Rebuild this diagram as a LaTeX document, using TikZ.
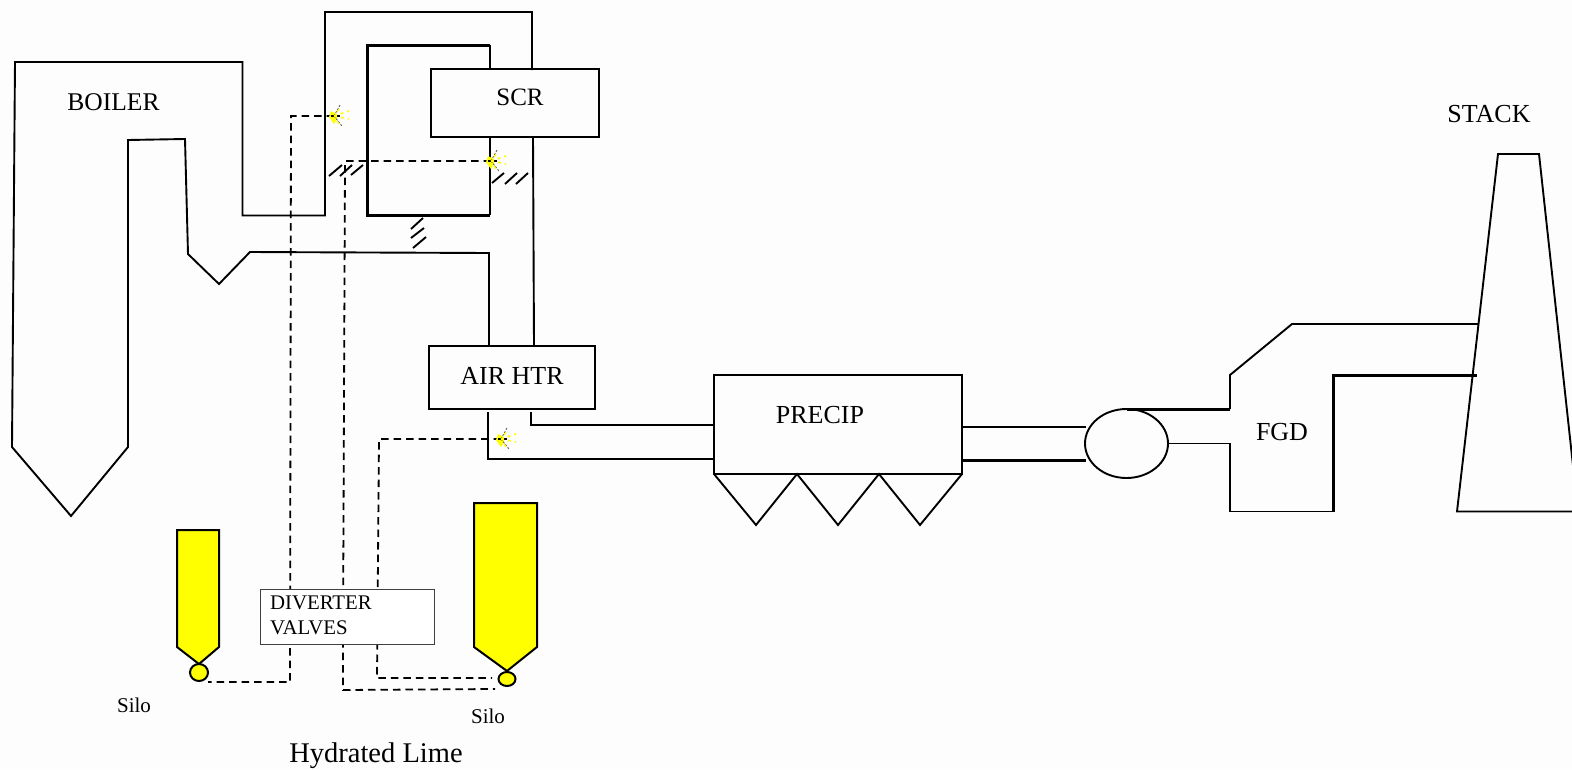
\documentclass[tikz,border=0pt]{standalone}
\usepackage{fontspec}
\setmainfont{Liberation Serif}
\definecolor{pagebg}{HTML}{FDFDFD}
\definecolor{lime}{HTML}{FFFF00}
\newcommand{\sprayfan}[1]{%
  \fill[lime] ($(#1)+(-3,-5)$) -- ($(#1)+(3,-2)$) -- ($(#1)+(3,3)$) -- ($(#1)+(0,8)$) -- ($(#1)+(-5,1)$) -- cycle;
  \draw[black,line width=1.6pt] ($(#1)+(-3,0)$) -- ($(#1)+(6,0)$);
  \draw[black!65,line width=0.8pt,dash pattern=on 2pt off 1.5pt] (#1) -- ++(6,-11);
  \draw[black!65,line width=0.8pt,dash pattern=on 2pt off 1.5pt] (#1) -- ++(8,10);
  \draw[lime,line width=1.6pt,dash pattern=on 3pt off 4pt] (#1) -- ++(15,-5);
  \draw[lime,line width=1.6pt,dash pattern=on 3pt off 4pt] (#1) -- ++(15,3);
  \draw[lime,line width=1.2pt] ($(#1)+(3,-4)$) -- ++(2,-3);
  \draw[lime,line width=1.2pt] ($(#1)+(3,5)$) -- ++(2,3);
}
\usetikzlibrary{calc,shapes.geometric}
\tikzset{
  x=1pt,y=-1pt,
  duct/.style={line width=1.9pt,line join=miter},
  midline/.style={line width=2.4pt,line join=miter},
  heavy/.style={line width=3pt,line join=miter},
  hatch/.style={line width=1.9pt},
  feed/.style={line width=1.8pt,dash pattern=on 7.5pt off 5pt},
  unitbox/.style={draw,line width=2pt,anchor=north west,inner sep=0pt,outer sep=0pt},
  silobody/.style={draw,fill=lime,line width=2pt,line join=miter},
  label/.style={font=\fontsize{26}{30}\selectfont,inner sep=0pt},
  small/.style={font=\fontsize{21}{24}\selectfont,inner sep=0pt}
}
\begin{document}
\begin{tikzpicture}
\useasboundingbox (0,0) rectangle (1572,769);
\clip (0,0) rectangle (1572,769);
\fill[pagebg] (0,0) rectangle (1572,769);

% named points
\coordinate (sprayA) at (334,116);
\coordinate (sprayB) at (491,161);
\coordinate (sprayC) at (501,439);
\coordinate (tA) at (291,116);
\coordinate (tB) at (345,161);
\coordinate (tC) at (379,439);
\coordinate (bA) at (290,682);
\coordinate (bB) at (343,690);
\coordinate (bC) at (377,678);

% dashed lime feed lines (behind the diverter box)
\draw[feed] (sprayA) -- (tA) -- (bA) -- (208,682);
\draw[feed] (sprayB) -- (tB) -- (343,640) -- (bB) -- (495,689);
\draw[feed] (sprayC) -- (tC) -- (bC) -- (492,678);

% boiler and flue path
\draw[duct] (532,70) -- (532,12) -- (325,12) -- (325,215.5) -- (242.5,215.5) -- (242.5,62) -- (15,62) -- (12,447) -- (71,516) -- (128,447) -- (128,140) -- (185,139) -- (188,254) -- (219,284) -- (250,252) -- (489,253) -- (489,346);
\draw[midline] (387,12) -- (532,12);
\draw[duct] (490,70) -- (490,45);
\draw[heavy] (490,45) -- (367,45) -- (367,215) -- (490,215);
\draw[duct] (490,215) -- (490,137);
\draw[duct] (533,137) -- (534,346);

% units
\node[unitbox,minimum width=168pt,minimum height=68pt] (scr) at (431,69) {};
\node[unitbox,minimum width=166pt,minimum height=63pt] (airhtr) at (429,346) {};
\node[unitbox,minimum width=248pt,minimum height=99pt] (precip) at (714,375) {};
\draw[duct] (precip.south west) -- (756,525) -- (797,474) -- (838,525) -- (879,474) -- (920,525) -- (precip.south east);
\node[draw,ellipse,line width=1.9pt,minimum width=83pt,minimum height=69pt,inner sep=0pt,outer sep=0pt] (fan) at (1126.5,443.5) {};

% ducts after air heater
\draw[duct] (488,412) -- (488,459) -- (714,459);
\draw[midline] (531,412) -- (531,425) -- (714,425);
\draw[duct] (962,427) -- (1086,427);
\draw[heavy] (962,460) -- (1086,460);
\draw[heavy] (fan.north) -- (1230,409);
\draw[duct] (1230,409) -- (1230,375) -- (1292,324) -- (1478,324);
\draw[duct] (fan.east) -- (1230,443.5) -- (1230,511.5) -- (1333,511.5);
\draw[heavy] (1333,511.5) -- (1333,375.5) -- (1477,375.5);

% stack
\draw[duct] (1572,511.5) -- (1457,511.5) -- (1498,154) -- (1539,154) -- (1578,511.5);

% hatch marks
\draw[hatch] (329,176) -- (342,165) (340,176) -- (352,165) (351,175) -- (363,165);
\draw[hatch] (492,183) -- (504,173) (505,184) -- (517,173) (516,184) -- (528,173);
\draw[hatch] (411,229) -- (423,218) (411,238) -- (424,228) (413,248) -- (426,237);

% sprayers
\sprayfan{sprayA}
\sprayfan{sprayB}
\sprayfan{sprayC}

% silos
\draw[silobody] (177,530) -- (219,530) -- (219,647) -- (199,664) -- (177,647) -- cycle;
\node[draw,fill=lime,ellipse,line width=2pt,minimum width=18pt,minimum height=17pt,inner sep=0pt] (hopA) at (199,672.5) {};
\draw[silobody] (474,503) -- (537,503) -- (537,647) -- (507,671) -- (474,647) -- cycle;
\node[draw,fill=lime,ellipse,line width=2pt,minimum width=17pt,minimum height=14pt,inner sep=0pt] (hopB) at (507,679) {};

% diverter box
\node[draw=black!75,fill=white,line width=1.3pt,anchor=north west,minimum width=174pt,minimum height=55pt,inner sep=0pt] (div) at (260,589) {};
\node[font=\fontsize{20.8}{25}\selectfont,anchor=west,inner sep=0pt] (divA) at (270,603) {DIVERTER};
\node[font=\fontsize{20.8}{25}\selectfont,anchor=west,inner sep=0pt] (divB) at (270,628) {VALVES};

% labels
\node[label,font=\fontsize{25.5}{30}\selectfont] (lbBoiler) at (113.5,102) {BOILER};
\node[label,font=\fontsize{25}{30}\selectfont] (lbScr) at (520,97) {SCR};
\node[label] (lbAir) at (512,375.5) {AIR HTR};
\node[label] (lbPrecip) at (820,415) {PRECIP};
\node[label] (lbFgd) at (1282,432) {FGD};
\node[label] (lbStack) at (1489,114) {STACK};
\node[label,font=\fontsize{28.5}{32}\selectfont] (lbLime) at (376,756) {Hydrated Lime};
\node[small] (lbSiloA) at (134,705) {Silo};
\node[small] (lbSiloB) at (488,716) {Silo};
\end{tikzpicture}
\end{document}
